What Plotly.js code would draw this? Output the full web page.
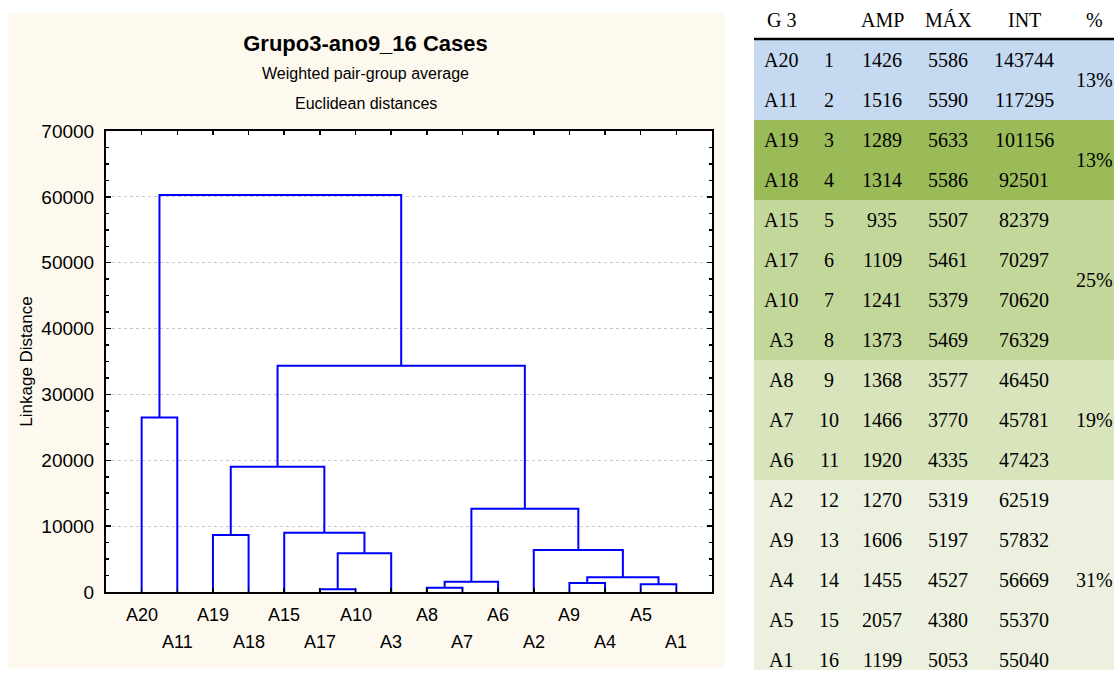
<!DOCTYPE html>
<html>
<head>
<meta charset="utf-8">
<script src="https://cdn.plot.ly/plotly-3.0.1.min.js"></script>
<style>
  html, body { margin: 0; padding: 0; background: #ffffff; }
  #chart { width: 1114px; height: 679px; }
</style>
</head>
<body>
<div id="chart"></div>
<script>
// ---------------- DATA ----------------
const chartTitle = 'Grupo3-ano9_16 Cases';
const subtitleLines = ['Weighted pair-group average', 'Euclidean distances'];
const yAxisTitle = 'Linkage Distance';

// leaf order along the x axis of the dendrogram
const leafLabels = ['A20','A11','A19','A18','A15','A17','A10','A3','A8','A7','A6','A2','A9','A4','A5','A1'];

// merges (linkage): child A, child B (leaf name or M<k> = k-th merge), linkage distance
const mergeA = ['A17','A8','A5','A9','M1','M3','M0','A2','A19','A15','M4','M8','A20','M11','M12'];
const mergeB = ['A10','A7','A1','A4','A6','M2','A3','M5','A18','M6','M7','M9','A11','M10','M13'];
const mergeHeight = [400, 650, 1170, 1370, 1570, 2230, 5900, 6380, 8650, 9000, 12650, 19000, 26500, 34350, 60300];

const yTickValues = [0, 10000, 20000, 30000, 40000, 50000, 60000, 70000];

// table
const tableHeader = ['G 3', '', 'AMP', 'MÁX', 'INT', '%'];
const caseNames = ['A20','A11','A19','A18','A15','A17','A10','A3','A8','A7','A6','A2','A9','A4','A5','A1'];
const caseIndex = [1,2,3,4,5,6,7,8,9,10,11,12,13,14,15,16];
const ampValues = [1426,1516,1289,1314,935,1109,1241,1373,1368,1466,1920,1270,1606,1455,2057,1199];
const maxValues = [5586,5590,5633,5586,5507,5461,5379,5469,3577,3770,4335,5319,5197,4527,4380,5053];
const intValues = [143744,117295,101156,92501,82379,70297,70620,76329,46450,45781,47423,62519,57832,56669,55370,55040];
const groupSizes = [2, 2, 4, 3, 5];
const groupPercent = ['13%', '13%', '25%', '19%', '31%'];
const groupColors = ['#C5D9F1', '#9BBB59', '#C4D79B', '#D8E4BC', '#EBF1DE'];

// ---------------- GEOMETRY (pixels) ----------------
const W = 1114, H = 679;
const PL = 106, PR = 712, PT = 131, PB = 592;
const px2x = px => (px - PL) / (PR - PL);
const py2y = py => (PB - py) / (PB - PT);

const sans = 'Liberation Sans, Arial, sans-serif';
const serif = 'Liberation Serif, Times New Roman, serif';

// ---------------- DENDROGRAM ----------------
const nodeX = {}, nodeY = {};
leafLabels.forEach((name, i) => { nodeX[name] = i + 1; nodeY[name] = 0; });
const lx = [], ly = [];
mergeA.forEach((a, k) => {
  const b = mergeB[k], h = mergeHeight[k];
  lx.push(nodeX[a], nodeX[a], nodeX[b], nodeX[b], null);
  ly.push(nodeY[a], h, h, nodeY[b], null);
  nodeX['M' + k] = (nodeX[a] + nodeX[b]) / 2;
  nodeY['M' + k] = h;
});

const traces = [{
  type: 'scatter', mode: 'lines', x: lx, y: ly,
  line: { color: '#0000FF', width: 2 },
  hoverinfo: 'skip', showlegend: false, cliponaxis: false
}];

// ---------------- ANNOTATIONS ----------------
const annotations = [];
// subtitles
const subY = [74, 104];
subtitleLines.forEach((t, i) => annotations.push({
  text: t, xref: 'paper', yref: 'paper', x: px2x(365.5), y: py2y(subY[i]),
  xanchor: 'center', yanchor: 'middle', showarrow: false,
  font: { family: sans, size: 16, color: '#000' }
}));
// leaf labels, staggered on two rows
leafLabels.forEach((name, i) => annotations.push({
  text: name, xref: 'x', yref: 'paper', x: i + 1, y: py2y(i % 2 === 0 ? 615 : 642),
  xanchor: 'center', yanchor: 'middle', showarrow: false,
  font: { family: sans, size: 18, color: '#000' }
}));

// table
const colX = [781, 829, 882, 948, 1024, 1094];
const headerY = 20, rowTop = 40, rowH = 40, tableLeft = 754, tableRight = 1114, tableBottom = 670;
const tfont = { family: serif, size: 20, color: '#000' };
tableHeader.forEach((t, c) => { if (t) annotations.push({
  text: t, xref: 'paper', yref: 'paper', x: px2x(colX[c]), y: py2y(headerY),
  xanchor: 'center', yanchor: 'middle', showarrow: false, font: tfont
}); });
caseNames.forEach((name, r) => {
  const cy = rowTop + rowH * r + rowH / 2;
  [name, caseIndex[r], ampValues[r], maxValues[r], intValues[r]].forEach((v, c) => annotations.push({
    text: String(v), xref: 'paper', yref: 'paper', x: px2x(colX[c]), y: py2y(cy),
    xanchor: 'center', yanchor: 'middle', showarrow: false, font: tfont
  }));
});

// ---------------- SHAPES ----------------
const shapes = [
  { type: 'rect', xref: 'paper', yref: 'paper', layer: 'below',
    x0: px2x(8), x1: px2x(725), y0: py2y(668), y1: py2y(13),
    fillcolor: '#FDF9EE', line: { width: 0 } },
  { type: 'rect', xref: 'x domain', yref: 'y domain', layer: 'below',
    x0: 0, x1: 1, y0: 0, y1: 1, fillcolor: '#FFFFFF', line: { width: 0 } }
];
let start = 0;
groupSizes.forEach((n, g) => {
  const top = rowTop + start * rowH;
  const bot = Math.min(top + n * rowH, tableBottom);
  shapes.push({ type: 'rect', xref: 'paper', yref: 'paper', layer: 'below',
    x0: px2x(tableLeft), x1: px2x(tableRight), y0: py2y(bot), y1: py2y(top),
    fillcolor: groupColors[g], line: { width: 0 } });
  annotations.push({
    text: groupPercent[g], xref: 'paper', yref: 'paper', x: px2x(colX[5]), y: py2y((top + top + n * rowH) / 2),
    xanchor: 'center', yanchor: 'middle', showarrow: false, font: tfont
  });
  start += n;
});
shapes.push({ type: 'line', xref: 'paper', yref: 'paper', layer: 'above',
  x0: px2x(tableLeft), x1: px2x(tableRight), y0: py2y(39), y1: py2y(39),
  line: { color: '#000', width: 2.5 } });

// ---------------- LAYOUT ----------------
const layout = {
  width: W, height: H,
  margin: { l: PL, r: W - PR, t: PT, b: H - PB, pad: 0 },
  paper_bgcolor: '#FFFFFF', plot_bgcolor: '#FFFFFF',
  font: { family: sans, color: '#000' },
  showlegend: false,
  title: {
    text: chartTitle, xref: 'paper', x: px2x(365.5), xanchor: 'center',
    yref: 'container', y: 1 - 43 / H, yanchor: 'middle',
    font: { family: sans, size: 22, weight: 'bold', color: '#000' }
  },
  xaxis: {
    range: [0, 17], tickvals: leafLabels.map((_, i) => i + 1), showticklabels: false,
    ticks: 'inside', ticklen: 4, tickwidth: 1.5, tickcolor: '#000',
    showline: true, linecolor: '#000', linewidth: 2, mirror: 'ticks',
    showgrid: false, zeroline: false, fixedrange: true
  },
  yaxis: {
    range: [0, 70000], tickvals: yTickValues, ticktext: yTickValues.map(String),
    ticks: 'inside', ticklen: 5, tickwidth: 1.5, tickcolor: '#000',
    minor: { dtick: 2500, ticks: 'inside', ticklen: 3, tickcolor: '#000', showgrid: false },
    showline: true, linecolor: '#000', linewidth: 2, mirror: 'ticks',
    showgrid: true, gridcolor: '#C8C8C8', griddash: 'dot', gridwidth: 1,
    zeroline: false, fixedrange: true,
    ticklabelstandoff: 6,
    tickfont: { family: sans, size: 19, color: '#000' },
    title: { text: yAxisTitle, standoff: 4, font: { family: sans, size: 17, color: '#000' } }
  },
  annotations: annotations,
  shapes: shapes
};

Plotly.newPlot('chart', traces, layout, { displayModeBar: false, staticPlot: true });
</script>
</body>
</html>
